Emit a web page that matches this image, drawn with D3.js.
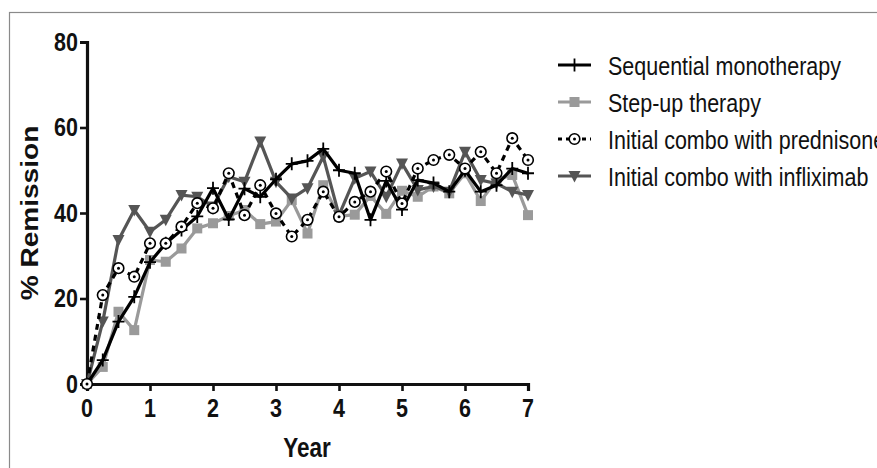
<!DOCTYPE html>
<html>
<head>
<meta charset="utf-8">
<script src="https://cdn.jsdelivr.net/npm/d3@7"></script>
<style>
  html, body { margin: 0; padding: 0; background: #fff; }
  svg { display: block; }
  text { font-family: "Liberation Sans", Arial, sans-serif; }
</style>
</head>
<body>
<svg id="chart" width="877" height="468"></svg>
<script>
// quarterly time points (years)
const years = [0, 0.25, 0.5, 0.75, 1, 1.25, 1.5, 1.75, 2, 2.25, 2.5, 2.75, 3, 3.25, 3.5, 3.75,
  4, 4.25, 4.5, 4.75, 5, 5.25, 5.5, 5.75, 6, 6.25, 6.5, 6.75, 7];

const sequential = [0, 5.6, 14.6, 20.4, 28.5, 32.9, 36, 39.2, 45.8, 38.5, 45.7, 43.8, 47.9, 51.5, 52.2, 55,
  50, 49.3, 38.4, 47.5, 40.8, 47.7, 47, 45, 50, 45, 46.5, 50.4, 49.3];
const stepUp = [0, 4, 16.9, 12.6, 29, 28.6, 31.7, 36.4, 37.6, 39.3, 40.7, 37.4, 38, 43, 35.2, 46.5,
  39.2, 39.6, 44, 39.8, 45.2, 43.8, 46.2, 44.6, 49.3, 42.8, 47.7, 48.9, 39.5];
const prednisone = [0, 20.8, 27.1, 25.1, 32.9, 32.9, 36.8, 42.3, 41.1, 49.3, 39.5, 46.5, 39.9, 34.5, 38.4, 45,
  39.1, 42.6, 45, 49.7, 42.2, 50.4, 52.4, 53.6, 50.4, 54.3, 49.3, 57.5, 52.4];
const infliximab = [0, 14.6, 33.7, 40.7, 35.6, 38.4, 44.2, 43.8, 41.5, 48.5, 47.3, 56.7, 47.3, 43.4, 45.8, 53.2,
  39.5, 48.1, 49.7, 43.8, 51.6, 45.4, 46.2, 45, 54.3, 47.7, 46.9, 45, 44.2];

const seriesNames = ["Sequential monotherapy", "Step-up therapy", "Initial combo with prednisone", "Initial combo with infliximab"];
const xTicks = [0, 1, 2, 3, 4, 5, 6, 7];
const yTicks = [0, 20, 40, 60, 80];

const svg = d3.select("#chart");

// outer frame
svg.append("rect")
  .attr("x", 9.5).attr("y", 12.5)
  .attr("width", 900).attr("height", 500)
  .attr("fill", "#fff").attr("stroke", "#8a8a8a").attr("stroke-width", 1.2);

const x = d3.scaleLinear().domain([0, 7]).range([87, 528]);
const y = d3.scaleLinear().domain([0, 80]).range([384, 42]);

const SY = 1.22; // text in the reference is stretched vertically

// helper: text stretched vertically, anchored at its baseline
function stretchedText(g, tx, ty, str, size, weight, anchor) {
  return g.append("g")
    .attr("transform", `translate(${tx},${ty}) scale(1,${SY})`)
    .append("text")
    .attr("text-anchor", anchor)
    .attr("font-size", size)
    .attr("font-weight", weight)
    .attr("fill", "#111")
    .text(str);
}

// axes
const xAxis = svg.append("g")
  .attr("transform", "translate(0,384)")
  .call(d3.axisBottom(x).tickValues(xTicks).tickSize(7).tickFormat(""));
const yAxis = svg.append("g")
  .attr("transform", "translate(87,0)")
  .call(d3.axisLeft(y).tickValues(yTicks).tickSize(7).tickFormat(""));
[xAxis, yAxis].forEach(a => {
  a.select(".domain").attr("stroke", "#111").attr("stroke-width", 3.2);
  a.selectAll(".tick line").attr("stroke", "#111").attr("stroke-width", 2.6);
});

xTicks.forEach(t => stretchedText(svg, x(t), 417, String(t), 21.5, "bold", "middle"));
yTicks.forEach(t => stretchedText(svg, 78, y(t) + 8.5, String(t), 21.5, "bold", "end"));

stretchedText(svg, 307, 457, "Year", 22.5, "bold", "middle");
svg.append("g")
  .attr("transform", `translate(38,213) scale(1,${SY}) rotate(-90)`)
  .append("text")
  .attr("text-anchor", "middle")
  .attr("font-size", 23)
  .attr("font-weight", "bold")
  .attr("fill", "#111")
  .text("% Remission");

// series styles
const series = [
  { name: seriesNames[1], values: stepUp, color: "#9a9a9a", dash: null, marker: "square" },
  { name: seriesNames[3], values: infliximab, color: "#555555", dash: null, marker: "triangle" },
  { name: seriesNames[0], values: sequential, color: "#000000", dash: null, marker: "plus" },
  { name: seriesNames[2], values: prednisone, color: "#000000", dash: "6,5", marker: "circle" }
];

function drawMarker(g, type, color, cx, cy) {
  if (type === "square") {
    g.append("rect").attr("x", cx - 5).attr("y", cy - 5).attr("width", 10).attr("height", 10)
      .attr("fill", color);
  } else if (type === "triangle") {
    g.append("path").attr("d", `M${cx - 6},${cy - 5}L${cx + 6},${cy - 5}L${cx},${cy + 6.5}Z`)
      .attr("fill", color);
  } else if (type === "plus") {
    g.append("path").attr("d", `M${cx - 6},${cy}H${cx + 6}M${cx},${cy - 6.5}V${cy + 6.5}`)
      .attr("stroke", color).attr("stroke-width", 1.8).attr("fill", "none");
  } else if (type === "circle") {
    g.append("circle").attr("cx", cx).attr("cy", cy).attr("r", 5.3)
      .attr("fill", "#fff").attr("stroke", color).attr("stroke-width", 1.6);
    g.append("circle").attr("cx", cx).attr("cy", cy).attr("r", 1.5).attr("fill", color);
  }
}

const line = d3.line().x((d, i) => x(years[i])).y(d => y(d));

series.forEach(s => {
  const g = svg.append("g");
  g.append("path")
    .attr("d", line(s.values))
    .attr("fill", "none")
    .attr("stroke", s.color)
    .attr("stroke-width", 3.2)
    .attr("stroke-dasharray", s.dash)
    .attr("stroke-linejoin", "round");
  s.values.forEach((v, i) => drawMarker(g, s.marker, s.color, x(years[i]), y(v)));
});

// legend
const legendOrder = [series[2], series[0], series[3], series[1]];
const legendY = [65, 102, 139, 176];
legendOrder.forEach((s, i) => {
  const g = svg.append("g");
  const ly = legendY[i];
  g.append("line")
    .attr("x1", 558).attr("x2", 591).attr("y1", ly).attr("y2", ly)
    .attr("stroke", s.color).attr("stroke-width", 3)
    .attr("stroke-dasharray", s.dash ? "4,4" : null);
  drawMarker(g, s.marker, s.color, 574.5, ly);
  stretchedText(g, 608, ly + 10, s.name, 21.5, "normal", "start");
});
</script>
</body>
</html>
